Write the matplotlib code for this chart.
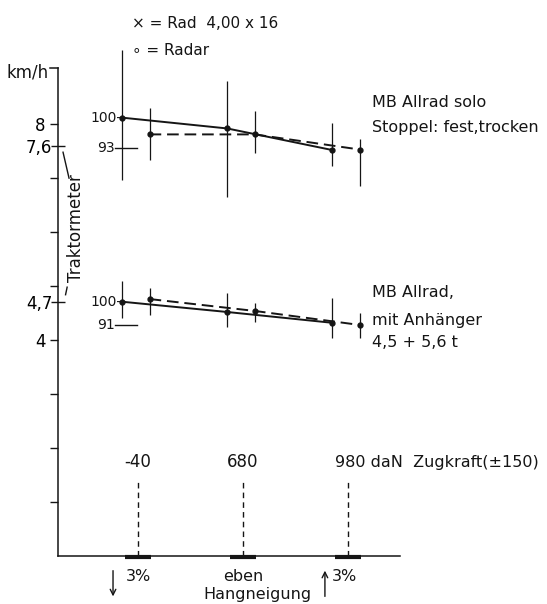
import matplotlib
matplotlib.use("Agg")
import matplotlib.pyplot as plt
import numpy as np

# categories along the bottom (tractive force)
positions = [0, 1, 2]
force_labels = ["-40", "680", "980"]
slope_labels = ["3%", "eben", "3%"]

# MB Allrad solo, km/h
solo_rad = [8.12, 7.92, 7.52]
solo_rad_lo = [6.96, 6.65, 7.22]
solo_rad_hi = [9.37, 8.80, 8.02]
solo_radar = [7.81, 7.81, 7.53]
solo_radar_lo = [7.33, 7.46, 6.85]
solo_radar_hi = [8.30, 8.24, 7.72]

# MB Allrad mit Anhaenger, km/h
anh_rad = [4.71, 4.52, 4.32]
anh_rad_lo = [4.40, 4.25, 4.04]
anh_rad_hi = [5.09, 4.87, 4.78]
anh_radar = [4.76, 4.54, 4.28]
anh_radar_lo = [4.46, 4.34, 4.04]
anh_radar_hi = [4.96, 4.69, 4.50]

# Traktormeter readings
trakt = [7.6, 4.7]

plt.rcParams["font.family"] = ["DejaVu Sans"]
ink = "#151515"

fig = plt.figure(figsize=(5.47, 6.04), dpi=100)
ax = fig.add_axes([58 / 547, 48 / 604, 342 / 547, 488 / 604])
ax.set_xlim(-0.762, 2.495)
ax.set_ylim(0, 9.04)
for s in ["top", "right"]:
    ax.spines[s].set_visible(False)
for s in ["left", "bottom"]:
    ax.spines[s].set_color(ink)
    ax.spines[s].set_linewidth(1.1)

ax.set_xticks([])
ax.set_yticks(range(1, 9))
ax.set_yticklabels(["" if v not in (4, 8) else str(v) for v in range(1, 9)], fontsize=12)
ax.set_yticks(trakt, minor=True)
ax.set_yticklabels([f"{v:.1f}".replace(".", ",") for v in trakt], minor=True, fontsize=12)
ax.tick_params(axis="y", which="major", direction="out", length=6, width=1, color=ink, pad=3)
ax.tick_params(axis="y", which="minor", direction="inout", length=10, width=1, color=ink, pad=-1)

off_rad, off_radar = -0.15, 0.11
x = np.array(positions, dtype=float)

for vals, lo, hi, off, ls in [
    (solo_rad, solo_rad_lo, solo_rad_hi, off_rad, "-"),
    (solo_radar, solo_radar_lo, solo_radar_hi, off_radar, (0, (6, 3))),
    (anh_rad, anh_rad_lo, anh_rad_hi, off_rad, "-"),
    (anh_radar, anh_radar_lo, anh_radar_hi, off_radar, (0, (6, 3))),
]:
    ax.plot(x + off, vals, color=ink, lw=1.4, ls=ls, marker="o", ms=3.5, clip_on=False)
    ax.vlines(x + off, lo, hi, color=ink, lw=0.9, clip_on=False)

# percent reference marks
ax.text(off_rad - 0.01, solo_rad[0], "100-", ha="right", va="center", fontsize=10, color=ink)
ax.text(off_rad - 0.01, anh_rad[0], "100-", ha="right", va="center", fontsize=10, color=ink)
ax.plot([-0.22, -0.01], [0.93 * solo_rad[0]] * 2, color=ink, lw=1)
ax.text(-0.225, 0.93 * solo_rad[0], "93", ha="right", va="center", fontsize=10, color=ink)
ax.plot([-0.22, -0.01], [0.91 * anh_rad[0]] * 2, color=ink, lw=1)
ax.text(-0.225, 0.91 * anh_rad[0], "91", ha="right", va="center", fontsize=10, color=ink)

# force markers on the bottom axis
for p, lab in zip(positions, force_labels):
    ax.vlines(p, 0, 1.41, color=ink, lw=1, linestyles=(0, (4, 3)))
    ax.plot([p - 0.12, p + 0.12], [-0.02, -0.02], color=ink, lw=3, solid_capstyle="butt", clip_on=False)
    if p < 2:
        ax.text(p, 1.74, lab, ha="center", va="center", fontsize=12, color=ink)
ax.text(1.88, 1.74, force_labels[2] + " daN  Zugkraft(±150)", ha="left", va="center",
        fontsize=11.5, color=ink, clip_on=False)

ax.text(0.0, -0.38, slope_labels[0], ha="center", va="center", fontsize=11.5, color=ink)
ax.text(1.0, -0.38, slope_labels[1], ha="center", va="center", fontsize=11.5, color=ink)
ax.text(1.97, -0.38, slope_labels[2], ha="center", va="center", fontsize=11.5, color=ink)
ax.text(1.14, -0.72, "Hangneigung", ha="center", va="center", fontsize=11.5, color=ink)
ax.annotate("", xy=(-0.238, -0.80), xytext=(-0.238, -0.22), annotation_clip=False,
            arrowprops=dict(arrowstyle="->", color=ink, lw=1))
ax.annotate("", xy=(1.78, -0.22), xytext=(1.78, -0.80), annotation_clip=False,
            arrowprops=dict(arrowstyle="->", color=ink, lw=1))

# axis unit with hook at top
ax.plot([-0.838, -0.762], [9.04, 9.04], color=ink, lw=1.1, clip_on=False)
ax.text(-0.85, 8.96, "km/h", ha="right", va="center", fontsize=12, color=ink)

# Traktormeter label
ax.text(-0.59, 6.07, "Traktormeter", rotation=90, ha="center", va="center", fontsize=12, color=ink)
ax.plot([-0.714, -0.657], [7.48, 7.0], color=ink, lw=1)
ax.plot([-0.69, -0.675], [4.84, 4.98], color=ink, lw=1)

# legend
ax.text(-0.06, 9.87, "× = Rad  4,00 x 16", ha="left", va="center", fontsize=11, color=ink, clip_on=False)
ax.text(-0.06, 9.37, "∘ = Radar", ha="left", va="center", fontsize=11, color=ink, clip_on=False)

# group descriptions
ax.text(2.23, 8.41, "MB Allrad solo", ha="left", va="center", fontsize=11.5, color=ink)
ax.text(2.23, 7.93, "Stoppel: fest,trocken", ha="left", va="center", fontsize=11.5, color=ink)
ax.text(2.23, 4.89, "MB Allrad,", ha="left", va="center", fontsize=11.5, color=ink)
ax.text(2.23, 4.37, "mit Anhänger", ha="left", va="center", fontsize=11.5, color=ink)
ax.text(2.23, 3.96, "4,5 + 5,6 t", ha="left", va="center", fontsize=11.5, color=ink)

fig.savefig("out.png", dpi=100)
